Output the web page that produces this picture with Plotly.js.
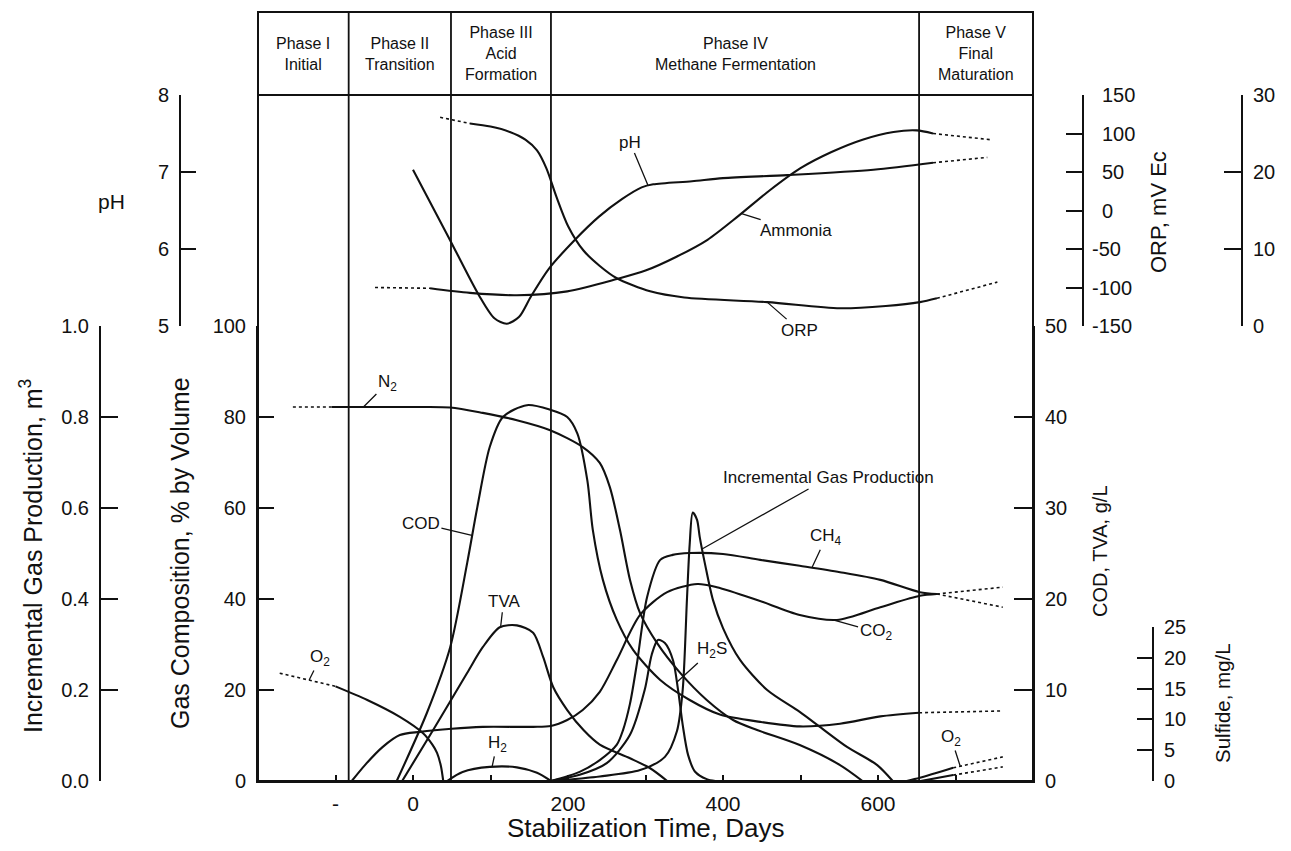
<!DOCTYPE html>
<html><head><meta charset="utf-8">
<script src="https://cdn.plot.ly/plotly-3.0.1.min.js"></script>
<style>html,body{margin:0;padding:0;background:#fff;} #chart{width:1291px;height:851px;}</style>
</head><body><div id="chart"></div>
<script>
// ---------------- data (days, values) ----------------
const phaseBounds = [-200, -83, 49, 178, 653, 800];
const phaseNames = ['Phase I<br>Initial', 'Phase II<br>Transition', 'Phase III<br>Acid<br>Formation', 'Phase IV<br>Methane Fermentation', 'Phase V<br>Final<br>Maturation'];
const xTickVals = [-100, 0, 100, 200, 300, 400, 500, 600, 700];
const xTickText = ['-', '0', '', '200', '', '400', '', '600', ''];

// upper panel
const pHDays = [0, 45, 85, 105, 121, 137, 152, 175, 209, 240, 270, 295, 310, 360, 400, 483, 594, 671];
const pHVals = [7.03, 6.17, 5.40, 5.10, 5.03, 5.12, 5.38, 5.74, 6.12, 6.42, 6.65, 6.80, 6.84, 6.88, 6.92, 6.96, 7.03, 7.12];
const pHDotDays = [671, 741];
const pHDotVals = [7.12, 7.19];

const orpDays = [73.5, 100, 125, 145, 160, 172, 185, 200, 220, 241, 263, 306, 350, 457, 551, 610, 654, 676];
const orpVals = [113, 109, 102, 92, 78, 55, 18, -20, -52, -72, -88, -105, -113, -119, -127, -124, -119, -114];
const orpDotStartDays = [35, 73.5];
const orpDotStartVals = [121, 113];
const orpDotEndDays = [676, 754];
const orpDotEndVals = [-114, -93];

const nh3Days = [22, 73.5, 134, 199, 263, 300, 340, 380, 420, 460, 500, 540, 580, 620, 650, 671];
const nh3Vals = [4.9, 4.3, 4.0, 4.5, 6.1, 7.2, 9.0, 11.2, 14.3, 17.6, 20.5, 22.6, 24.2, 25.2, 25.4, 25.0];
const nh3DotStartDays = [-49, 22];
const nh3DotStartVals = [5.0, 4.9];
const nh3DotEndDays = [671, 745];
const nh3DotEndVals = [25.0, 24.2];

// lower panel: gas composition (%)
const n2DotDays = [-155, -105];
const n2DotVals = [82.2, 82.2];
const n2Days = [-105, 0, 48, 90, 134, 177, 219, 241, 254, 267, 280, 293, 315, 345, 379, 413, 444, 499, 551, 580];
const n2Vals = [82.2, 82.2, 82.1, 80.9, 79.3, 77.1, 73.4, 69.9, 64.6, 55.2, 44.2, 36.9, 30.3, 23.7, 17.8, 13.4, 11.2, 7.9, 3.5, 0];

const o2DotDays = [-172, -100];
const o2DotVals = [23.7, 20.8];
const o2Days = [-100, -59, -17, 13, 25, 31, 36, 39];
const o2Vals = [20.8, 17.8, 14.1, 10.5, 8.0, 6.2, 3.3, 0];

const h2Days = [44, 64, 99, 134, 160, 178];
const h2Vals = [0, 2.0, 3.1, 3.0, 1.8, 0];

const co2Days = [-79, -62, -39, -17, 9, 50, 90, 155, 178, 199, 219, 241, 263, 293, 328, 367, 392, 444, 499, 547, 603, 654, 676];
const co2Vals = [0, 3.5, 7.5, 10.1, 10.8, 11.5, 11.9, 11.9, 12.1, 13.4, 15.6, 19.6, 26.6, 36.5, 41.5, 43.3, 42.6, 39.8, 36.5, 35.4, 38.2, 40.7, 41.1];
const co2DotDays = [676, 761];
const co2DotVals = [41.1, 42.6];

const ch4Days = [178, 215, 241, 263, 271, 280, 289, 302, 319, 335, 357, 400, 448, 499, 551, 603, 654, 676];
const ch4Vals = [0, 2, 4.6, 8, 11.2, 17, 25.9, 40.4, 48.6, 49.7, 50.1, 49.9, 48.6, 47.3, 45.9, 44.2, 41.5, 41.1];
const ch4DotDays = [676, 761];
const ch4DotVals = [41.1, 38.2];

const o2lateDays = [637, 654, 697];
const o2lateVals = [0, 0.7, 2.9];
const o2lateDotDays = [697, 761];
const o2lateDotVals = [2.9, 5.3];
const n2lateDays = [655, 697];
const n2lateVals = [0, 1.3];
const n2lateDotDays = [697, 761];
const n2lateDotVals = [1.3, 3.1];

// COD, TVA (g/L)
const codDays = [-21, 18, 48, 70, 83, 99, 116, 147, 177, 199, 212, 225, 232, 245, 263, 284, 319, 357, 396, 448, 499, 551, 603, 653];
const codVals = [0, 7.5, 14.7, 24, 30.1, 36.7, 40, 41.3, 40.8, 40, 38.2, 33, 27.6, 22.1, 17.7, 14.4, 11.1, 8.9, 7.3, 6.5, 6.0, 6.3, 7.1, 7.5];
const codDotDays = [653, 761];
const codDotVals = [7.5, 7.7];

const tvaDays = [-14, 26, 70, 90, 112, 134, 155, 168, 181, 199, 220, 241, 280, 306, 328];
const tvaVals = [0, 5.6, 11.9, 14.7, 16.9, 17.1, 16.3, 13.6, 10.3, 7.8, 5.6, 4.0, 2.5, 1.4, 0];

// Sulfide (mg/L)
const h2sDays = [178, 215, 250, 280, 299, 308, 316, 325, 335.5, 342, 348, 355, 364, 379, 390];
const h2sVals = [0, 1.0, 2.9, 7.5, 14.8, 20.5, 22.9, 22.4, 19.6, 14.8, 9.1, 4.2, 1.5, 0.3, 0];

// Incremental gas production (m3)
const gasDays = [178, 241, 293, 325, 340.6, 348, 353.5, 357, 361, 366.5, 370, 377, 387, 400, 422, 457, 499, 525, 560, 599, 619];
const gasVals = [0, 0.01, 0.024, 0.053, 0.11, 0.2, 0.4, 0.52, 0.59, 0.574, 0.536, 0.475, 0.398, 0.336, 0.266, 0.2, 0.152, 0.119, 0.075, 0.035, 0];

// ---------------- layout helpers ----------------
const W = 1291, H = 851;
const fx = p => p / W, fy = p => 1 - p / H;
const FONT = 'Liberation Sans, Arial, Helvetica, sans-serif';
const INK = '#111';

function ln(x, y, yaxis, dotted) {
  return {type: 'scatter', mode: 'lines', x: x, y: y, xaxis: 'x', yaxis: yaxis,
    line: {color: INK, width: dotted ? 1.6 : 2.1, shape: 'spline', smoothing: 0.8, dash: dotted ? 'dot' : 'solid'},
    hoverinfo: 'skip', showlegend: false};
}

const traces = [
  ln(pHDays, pHVals, 'y2'), ln(pHDotDays, pHDotVals, 'y2', true),
  ln(orpDays, orpVals, 'y3'), ln(orpDotStartDays, orpDotStartVals, 'y3', true), ln(orpDotEndDays, orpDotEndVals, 'y3', true),
  ln(nh3Days, nh3Vals, 'y4'), ln(nh3DotStartDays, nh3DotStartVals, 'y4', true), ln(nh3DotEndDays, nh3DotEndVals, 'y4', true),
  ln(n2Days, n2Vals, 'y'), ln(n2DotDays, n2DotVals, 'y', true),
  ln(o2Days, o2Vals, 'y'), ln(o2DotDays, o2DotVals, 'y', true),
  ln(h2Days, h2Vals, 'y'),
  ln(co2Days, co2Vals, 'y'), ln(co2DotDays, co2DotVals, 'y', true),
  ln(ch4Days, ch4Vals, 'y'), ln(ch4DotDays, ch4DotVals, 'y', true),
  ln(o2lateDays, o2lateVals, 'y'), ln(o2lateDotDays, o2lateDotVals, 'y', true),
  ln(n2lateDays, n2lateVals, 'y'), ln(n2lateDotDays, n2lateDotVals, 'y', true),
  ln(codDays, codVals, 'y5'), ln(codDotDays, codDotVals, 'y5', true),
  ln(tvaDays, tvaVals, 'y5'),
  ln(h2sDays, h2sVals, 'y6'),
  ln(gasDays, gasVals, 'y7')
];

function ax(extra) {
  return Object.assign({
    showgrid: false, zeroline: false, showline: true, linecolor: INK, linewidth: 2,
    ticks: 'inside', tickcolor: INK, tickwidth: 2, ticklen: 16, ticklabelstandoff: 6,
    tickfont: {family: FONT, size: 20, color: INK}, fixedrange: true, automargin: false
  }, extra);
}

const LOW = [fy(781), fy(326)];
const UP = [fy(326), fy(95)];

const layout = {
  width: W, height: H, margin: {l: 0, r: 0, t: 0, b: 0},
  paper_bgcolor: '#fff', plot_bgcolor: 'rgba(0,0,0,0)', showlegend: false,
  xaxis: ax({domain: [fx(258), fx(1033)], range: [-200, 800], anchor: 'y', tickvals: xTickVals, ticktext: xTickText, ticklen: 6, ticklabelstandoff: 3,
    tickfont: {family: FONT, size: 21, color: INK}}),
  yaxis: ax({domain: LOW, range: [0, 100], anchor: 'x', side: 'left', tickvals: [0, 20, 40, 60, 80, 100], ticklen: 16}),
  yaxis2: ax({domain: UP, range: [5, 8], anchor: 'free', position: fx(180), side: 'left', tickvals: [5, 6, 7, 8], ticklen: 15}),
  yaxis3: ax({overlaying: 'y2', range: [-150, 150], anchor: 'free', position: fx(1083), side: 'right',
    tickvals: [-150, -100, -50, 0, 50, 100, 150], ticktext: ['-150', '-100', '-50', '\u20020', '\u200250', '\u2002100', '\u2002150'], ticklen: 16, ticklabelstandoff: 4}),
  yaxis4: ax({overlaying: 'y2', range: [0, 30], anchor: 'free', position: fx(1242), side: 'right', tickvals: [0, 10, 20, 30], ticklen: 17}),
  yaxis5: ax({overlaying: 'y', range: [0, 50], anchor: 'x', side: 'right', tickvals: [0, 10, 20, 30, 40, 50], ticklen: 19}),
  yaxis6: ax({domain: [fy(781), fy(627)], range: [0, 25], anchor: 'free', position: fx(1153), side: 'right', tickvals: [0, 5, 10, 15, 20, 25], ticklen: 15}),
  yaxis7: ax({overlaying: 'y', range: [0, 1], anchor: 'free', position: fx(100), side: 'left',
    tickvals: [0, 0.2, 0.4, 0.6, 0.8, 1.0], ticktext: ['0.0', '0.2', '0.4', '0.6', '0.8', '1.0'], ticklen: 17}),
  shapes: [],
  annotations: []
};

// frame + header
layout.shapes.push({type: 'rect', xref: 'paper', yref: 'paper', x0: fx(258), x1: fx(1033), y0: fy(781), y1: fy(12), line: {color: INK, width: 2}});
layout.shapes.push({type: 'line', xref: 'paper', yref: 'paper', x0: fx(258), x1: fx(1033), y0: fy(95), y1: fy(95), line: {color: INK, width: 2}});
for (let i = 1; i < phaseBounds.length - 1; i++) {
  layout.shapes.push({type: 'line', xref: 'x', yref: 'paper', x0: phaseBounds[i], x1: phaseBounds[i], y0: fy(781), y1: fy(12), line: {color: INK, width: 1.8}});
}
for (let i = 0; i < phaseNames.length; i++) {
  layout.annotations.push({xref: 'x', yref: 'paper', x: (phaseBounds[i] + phaseBounds[i + 1]) / 2, y: fy(54),
    text: phaseNames[i], showarrow: false, font: {family: FONT, size: 16, color: INK}, align: 'center', xanchor: 'center', yanchor: 'middle'});
}

// axis titles
function title(text, x, y, size, angle) {
  layout.annotations.push({xref: 'paper', yref: 'paper', x: fx(x), y: fy(y), text: text, showarrow: false,
    textangle: angle || 0, font: {family: FONT, size: size, color: INK}, xanchor: 'center', yanchor: 'middle'});
}
title('Incremental Gas Production, m<sup>3</sup>', 31, 556, 25, -90);
title('Gas Composition, % by Volume', 180, 553, 25, -90);
title('pH', 112, 201, 21);
title('ORP, mV Ec', 1158, 212, 22, -90);
title('COD, TVA, g/L', 1100, 551, 20, -90);
title('Sulfide, mg/L', 1222, 703, 20.5, -90);
title('Stabilization Time, Days', 645, 828, 26);

// curve labels with leader lines
function lab(text, x, y, yref, axp, ayp) {
  layout.annotations.push({xref: 'x', yref: yref, x: x, y: y, text: text, showarrow: true, arrowhead: 0,
    arrowwidth: 1.3, arrowcolor: INK, ax: axp, ay: ayp, standoff: 0,
    font: {family: FONT, size: 17, color: INK}});
}
lab('pH', 303, 6.83, 'y2', -18, -43);
lab('Ammonia', 424, 14.6, 'y4', 54, 17);
lab('ORP', 457, -119, 'y3', 32, 28);
lab('N<sub>2</sub>', -64, 82.2, 'y', 24, -24);
lab('COD', 76, 27, 'y5', -51, -12);
lab('TVA', 113, 16.9, 'y5', 3, -26);
lab('H<sub>2</sub>', 102, 3.1, 'y', 5, -23);
lab('O<sub>2</sub>', -134, 22.2, 'y', 11, -22);
lab('Incremental Gas Production', 373, 0.51, 'y7', 126, -71);
lab('CH<sub>4</sub>', 515, 47, 'y', 14, -30);
lab('H<sub>2</sub>S', 340, 16, 'y6', 35, -32);
lab('CO<sub>2</sub>', 542, 35.4, 'y', 43, 12);
lab('O<sub>2</sub>', 706, 3.3, 'y', -9, -28);

Plotly.newPlot('chart', traces, layout, {staticPlot: true, displayModeBar: false});
</script></body></html>
